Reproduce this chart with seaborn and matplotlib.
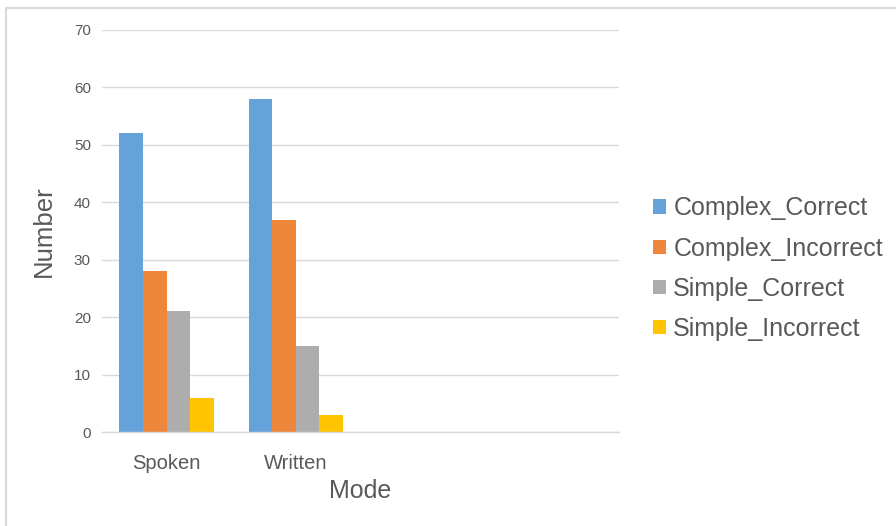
import pandas as pd
import matplotlib.pyplot as plt
import seaborn as sns
from matplotlib.lines import Line2D
from matplotlib.patches import Patch

# Chart data
modes = ['Spoken', 'Written']
series = ['Complex_Correct', 'Complex_Incorrect', 'Simple_Correct', 'Simple_Incorrect']
complex_correct = [52, 58]
complex_incorrect = [28, 37]
simple_correct = [21, 15]
simple_incorrect = [6, 3]
colors = ['#65A2D9', '#EE873B', '#ADADAD', '#FFC502']

rows = []
for s, vals in zip(series, [complex_correct, complex_incorrect, simple_correct, simple_incorrect]):
    for m, v in zip(modes, vals):
        rows.append({'Mode': m, 'Series': s, 'Number': v})
df = pd.DataFrame(rows)

sns.set_style('white')
plt.rcParams['font.family'] = ['Liberation Sans', 'DejaVu Sans']
text_color = '#595959'
grid_color = '#D9D9D9'

fig = plt.figure(figsize=(8.96, 5.26), dpi=100)
ax = fig.add_axes([0.1138, 0.1787, 0.577, 0.7643])

sns.barplot(data=df, x='Mode', y='Number', hue='Series', hue_order=series,
            palette=colors, width=0.73, saturation=1, ax=ax, legend=False,
            linewidth=0)

# Excel leaves room for two empty categories
ax.set_xlim(-0.5, 3.5)
ax.set_ylim(0, 70)
ax.set_yticks(range(0, 71, 10))
ax.yaxis.grid(True, color=grid_color, linewidth=1)
ax.set_axisbelow(True)
for side in ['top', 'right', 'left']:
    ax.spines[side].set_visible(False)
ax.spines['bottom'].set_color(grid_color)
ax.spines['bottom'].set_linewidth(1)
ax.tick_params(axis='y', length=0, pad=8, labelsize=11, labelcolor=text_color)
ax.tick_params(axis='x', length=0, pad=16, labelsize=14.5, labelcolor=text_color)

ax.set_xlabel('Mode', fontsize=18, color=text_color, labelpad=4)
ax.set_ylabel('Number', fontsize=18.5, color=text_color, labelpad=13)

handles = [Patch(facecolor=c, edgecolor='none') for c in colors]
fig.legend(handles, series, loc='center left', bbox_to_anchor=(0.704, 0.489),
           frameon=False, fontsize=18, labelcolor=text_color,
           handlelength=0.5, handleheight=0.5, handletextpad=0.3,
           labelspacing=0.65)

# chart border (partially cropped in the reference)
fig.add_artist(Line2D([5.5 / 896, 1], [1 - 7.5 / 526, 1 - 7.5 / 526],
                      transform=fig.transFigure, color=grid_color, linewidth=1.5))
fig.add_artist(Line2D([5.5 / 896, 5.5 / 896], [0, 1 - 7.5 / 526],
                      transform=fig.transFigure, color=grid_color, linewidth=1.5))

fig.savefig('out.png', dpi=100)
plt.close(fig)
